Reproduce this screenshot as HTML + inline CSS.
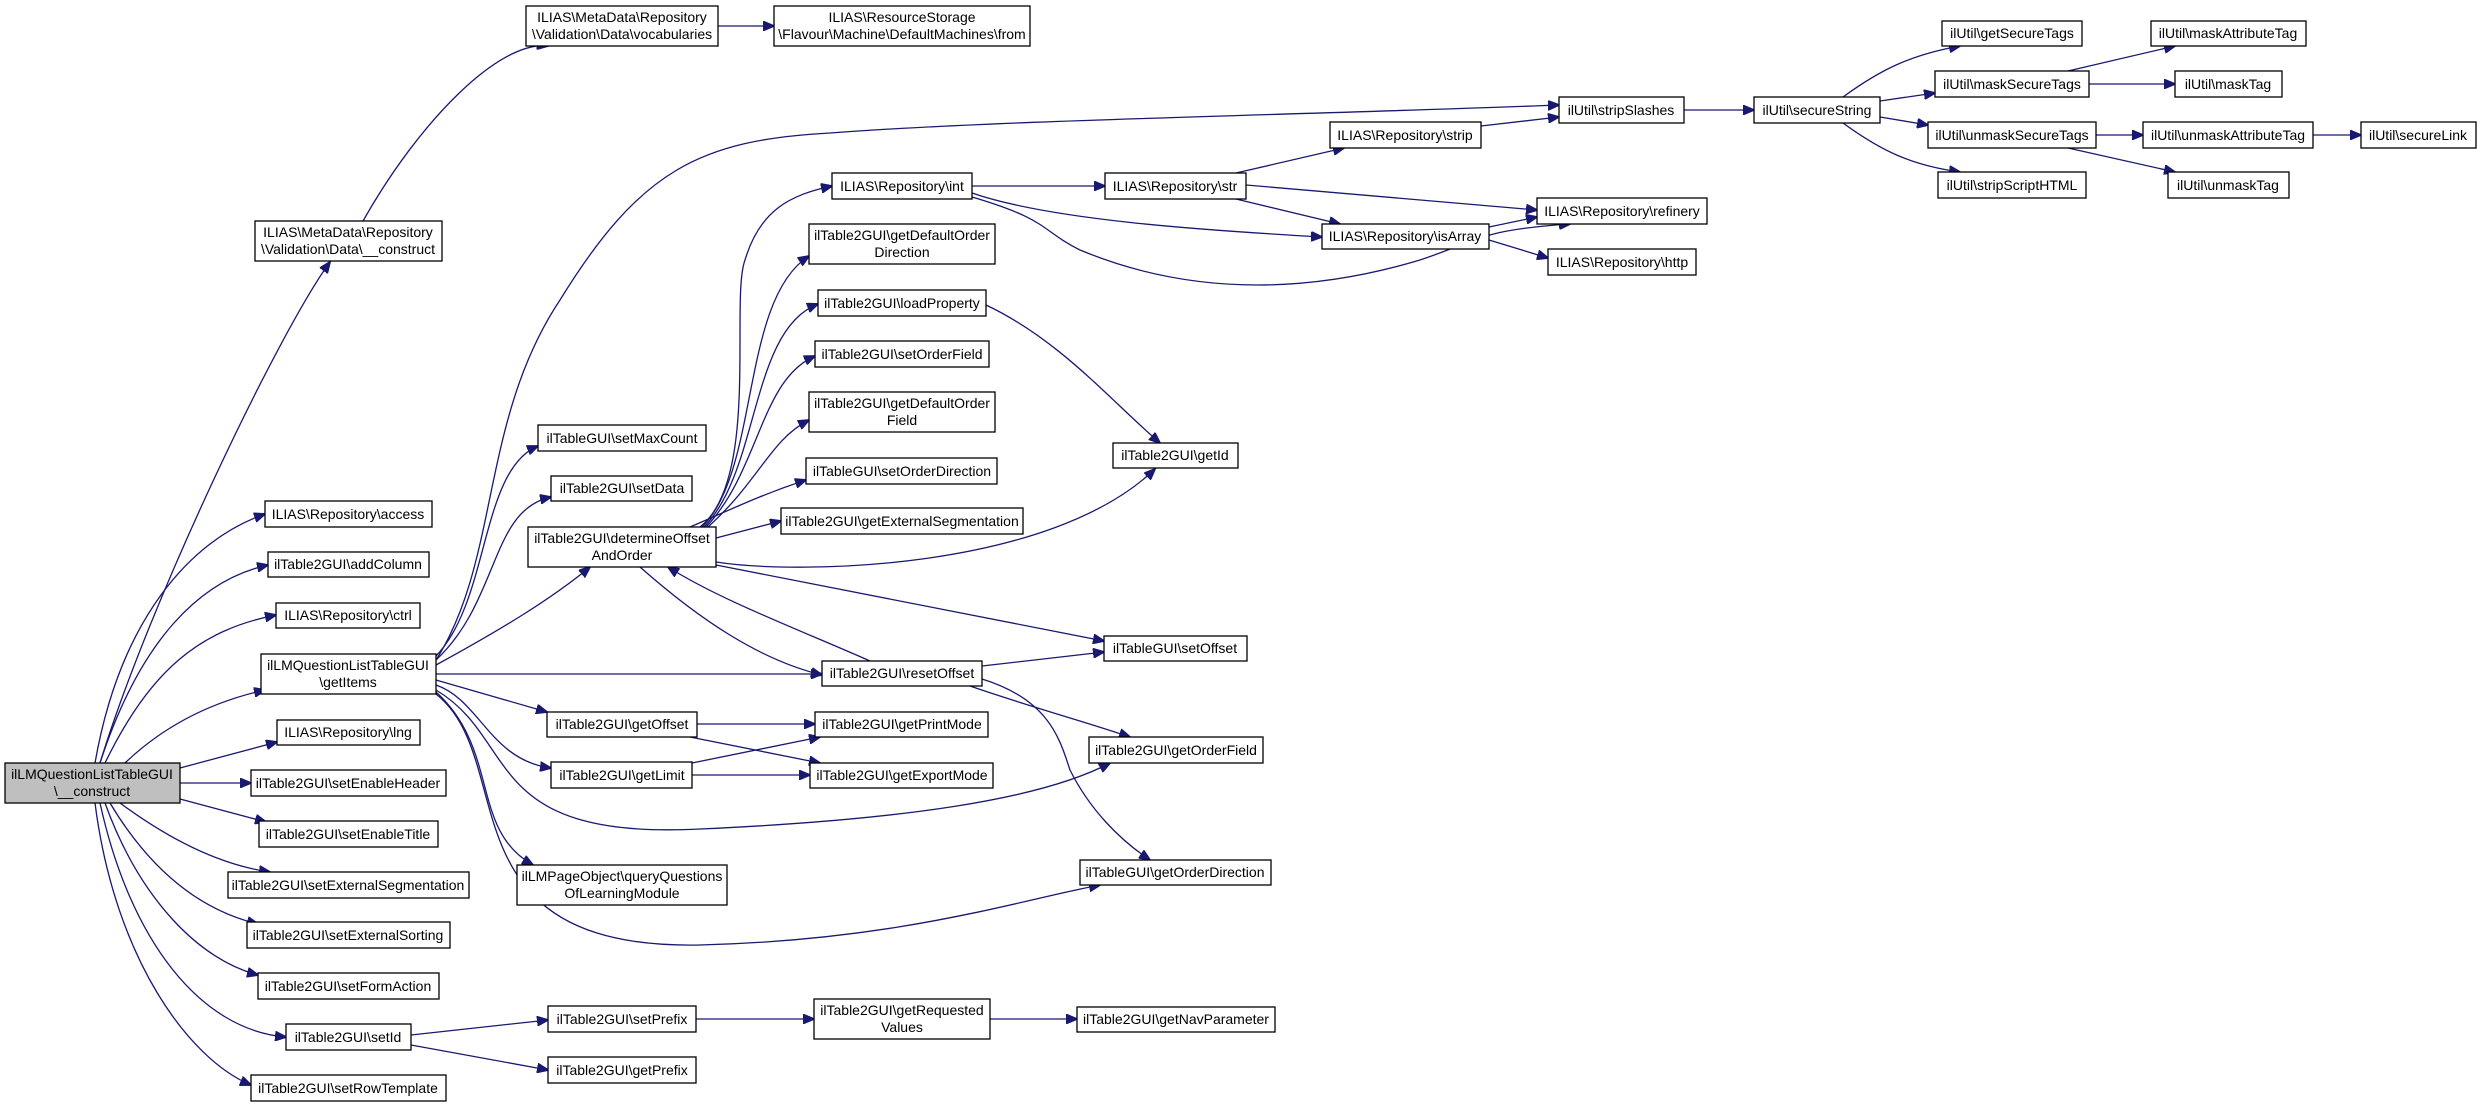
<!DOCTYPE html>
<html><head><meta charset="utf-8"><style>
html,body{margin:0;padding:0;background:#fff;}
svg{display:block;}
text{font-family:"Liberation Sans",sans-serif;font-size:14px;fill:#000;text-anchor:middle;}
rect{fill:#fff;stroke:#000;stroke-width:1.3;}
path{fill:none;stroke:#191970;stroke-width:1.3;}
</style></head><body>
<svg width="2481" height="1106" viewBox="0 0 2481 1106" xmlns="http://www.w3.org/2000/svg">
<defs><marker id="a" markerWidth="12" markerHeight="10" refX="11" refY="5" orient="auto" markerUnits="userSpaceOnUse"><path d="M0,0 L12,5 L0,10 Z" style="fill:#191970;stroke:#191970;stroke-width:1"/></marker></defs>
<g marker-end="url(#a)">
<!-- main -->
<path d="M100,763 C150,600 280,330 330,262"/>
<path d="M95,763 C120,620 190,540 265,514"/>
<path d="M100,763 C140,640 200,580 268,565"/>
<path d="M105,763 C150,670 200,630 276,615"/>
<path d="M125,763 C170,720 220,700 265,690"/>
<path d="M180,768 L277,742"/>
<path d="M180,783 L251,783"/>
<path d="M180,799 L266,822"/>
<path d="M120,803 C170,840 220,865 270,872"/>
<path d="M110,803 C150,870 200,910 258,924"/>
<path d="M105,803 C140,900 200,960 258,975"/>
<path d="M100,803 C130,940 200,1030 286,1037"/>
<path d="M95,803 C115,960 190,1060 251,1085"/>
<!-- metadata -->
<path d="M363,221 C420,120 500,40 548,46"/>
<path d="M718,26 L774,26"/>
<!-- getItems -->
<path d="M436,660 C500,560 480,420 560,300 C640,170 700,140 830,133 C1000,120 1300,115 1559,105"/>
<path d="M436,656 C490,600 480,470 538,446"/>
<path d="M436,660 C500,600 490,510 551,497"/>
<path d="M436,665 C500,630 550,600 590,567"/>
<path d="M436,674 L822,674"/>
<path d="M436,680 L547,712"/>
<path d="M436,685 C480,700 490,760 551,768"/>
<path d="M436,690 C520,740 480,840 700,829 C900,820 1040,800 1110,763"/>
<path d="M436,694 C520,760 440,950 700,945 C900,940 1020,900 1100,885"/>
<path d="M436,692 C500,750 470,830 533,865"/>
<!-- determineOffsetAndOrder -->
<path d="M700,527 C760,480 730,300 745,260 C760,210 790,195 832,186"/>
<path d="M702,527 C760,470 740,300 809,256"/>
<path d="M704,527 C760,470 750,330 818,304"/>
<path d="M706,527 C760,470 760,380 815,356"/>
<path d="M708,527 C760,480 770,440 809,420"/>
<path d="M690,527 C730,510 760,495 806,480"/>
<path d="M716,538 L781,521"/>
<path d="M716,562 C800,575 1050,570 1155,469"/>
<path d="M716,565 L1104,641"/>
<path d="M640,567 C700,620 760,660 822,675"/>
<path d="M870,661 C800,630 720,600 668,567"/>
<!-- int/str -->
<path d="M972,186 L1105,186"/>
<path d="M972,193 C1050,220 1200,230 1322,237"/>
<path d="M972,197 C1050,220 1040,230 1080,250 C1200,300 1320,290 1420,260 C1480,240 1480,230 1570,224"/>
<path d="M1236,173 L1344,148"/>
<path d="M1246,185 L1537,210"/>
<path d="M1236,199 L1340,224"/>
<path d="M1481,126 L1559,117"/>
<path d="M1489,227 L1537,217"/>
<path d="M1489,240 L1548,258"/>
<path d="M1684,110 L1754,110"/>
<!-- util -->
<path d="M1843,97 C1880,70 1910,55 1960,46"/>
<path d="M1880,101 L1935,93"/>
<path d="M1880,117 L1928,125"/>
<path d="M1843,123 C1880,150 1910,165 1960,172"/>
<path d="M2068,71 L2175,46"/>
<path d="M2089,84 L2175,84"/>
<path d="M2096,135 L2143,135"/>
<path d="M2068,148 L2175,172"/>
<path d="M2313,135 L2361,135"/>
<!-- others -->
<path d="M986,305 C1060,340 1110,400 1160,443"/>
<path d="M982,666 L1104,652"/>
<path d="M970,686 C1040,710 1080,720 1130,737"/>
<path d="M982,679 C1050,700 1060,740 1070,770 C1090,810 1120,840 1150,860"/>
<path d="M697,724 L815,724"/>
<path d="M690,737 L820,763"/>
<path d="M692,763 L820,737"/>
<path d="M692,775 L810,775"/>
<path d="M411,1035 L548,1020"/>
<path d="M411,1045 L548,1070"/>
<path d="M696,1019 L814,1019"/>
<path d="M990,1019 L1077,1019"/>
</g>
<!-- nodes -->
<rect x="5" y="763" width="175" height="40" style="fill:#bfbfbf"/><text x="92" y="779">ilLMQuestionListTableGUI</text><text x="92" y="796">\__construct</text>
<rect x="255" y="221" width="187" height="40"/><text x="348" y="237">ILIAS\MetaData\Repository</text><text x="348" y="254">\Validation\Data\__construct</text>
<rect x="526" y="6" width="192" height="40"/><text x="622" y="22">ILIAS\MetaData\Repository</text><text x="622" y="39">\Validation\Data\vocabularies</text>
<rect x="774" y="6" width="256" height="40"/><text x="902" y="22">ILIAS\ResourceStorage</text><text x="902" y="39">\Flavour\Machine\DefaultMachines\from</text>
<rect x="265" y="501" width="167" height="26"/><text x="348" y="519">ILIAS\Repository\access</text>
<rect x="268" y="552" width="161" height="25"/><text x="348" y="569">ilTable2GUI\addColumn</text>
<rect x="276" y="603" width="144" height="25"/><text x="348" y="620">ILIAS\Repository\ctrl</text>
<rect x="261" y="654" width="175" height="40"/><text x="348" y="670">ilLMQuestionListTableGUI</text><text x="348" y="687">\getItems</text>
<rect x="277" y="720" width="143" height="25"/><text x="348" y="737">ILIAS\Repository\lng</text>
<rect x="251" y="770" width="195" height="26"/><text x="348" y="788">ilTable2GUI\setEnableHeader</text>
<rect x="259" y="821" width="179" height="26"/><text x="348" y="839">ilTable2GUI\setEnableTitle</text>
<rect x="228" y="872" width="241" height="26"/><text x="348" y="890">ilTable2GUI\setExternalSegmentation</text>
<rect x="247" y="922" width="203" height="26"/><text x="348" y="940">ilTable2GUI\setExternalSorting</text>
<rect x="258" y="973" width="181" height="26"/><text x="348" y="991">ilTable2GUI\setFormAction</text>
<rect x="286" y="1024" width="125" height="26"/><text x="348" y="1042">ilTable2GUI\setId</text>
<rect x="251" y="1075" width="195" height="26"/><text x="348" y="1093">ilTable2GUI\setRowTemplate</text>
<rect x="538" y="425" width="168" height="26"/><text x="622" y="443">ilTableGUI\setMaxCount</text>
<rect x="551" y="476" width="141" height="25"/><text x="622" y="493">ilTable2GUI\setData</text>
<rect x="528" y="527" width="188" height="40"/><text x="622" y="543">ilTable2GUI\determineOffset</text><text x="622" y="560">AndOrder</text>
<rect x="547" y="712" width="150" height="25"/><text x="622" y="729">ilTable2GUI\getOffset</text>
<rect x="551" y="762" width="141" height="26"/><text x="622" y="780">ilTable2GUI\getLimit</text>
<rect x="517" y="865" width="210" height="40"/><text x="622" y="881">ilLMPageObject\queryQuestions</text><text x="622" y="898">OfLearningModule</text>
<rect x="548" y="1006" width="148" height="26"/><text x="622" y="1024">ilTable2GUI\setPrefix</text>
<rect x="548" y="1057" width="148" height="26"/><text x="622" y="1075">ilTable2GUI\getPrefix</text>
<rect x="832" y="173" width="140" height="26"/><text x="902" y="191">ILIAS\Repository\int</text>
<rect x="809" y="224" width="186" height="40"/><text x="902" y="240">ilTable2GUI\getDefaultOrder</text><text x="902" y="257">Direction</text>
<rect x="818" y="290" width="168" height="26"/><text x="902" y="308">ilTable2GUI\loadProperty</text>
<rect x="815" y="341" width="174" height="26"/><text x="902" y="359">ilTable2GUI\setOrderField</text>
<rect x="809" y="392" width="186" height="40"/><text x="902" y="408">ilTable2GUI\getDefaultOrder</text><text x="902" y="425">Field</text>
<rect x="806" y="458" width="191" height="26"/><text x="902" y="476">ilTableGUI\setOrderDirection</text>
<rect x="781" y="508" width="242" height="26"/><text x="902" y="526">ilTable2GUI\getExternalSegmentation</text>
<rect x="822" y="661" width="160" height="25"/><text x="902" y="678">ilTable2GUI\resetOffset</text>
<rect x="815" y="712" width="173" height="25"/><text x="902" y="729">ilTable2GUI\getPrintMode</text>
<rect x="810" y="763" width="183" height="25"/><text x="902" y="780">ilTable2GUI\getExportMode</text>
<rect x="814" y="999" width="176" height="40"/><text x="902" y="1015">ilTable2GUI\getRequested</text><text x="902" y="1032">Values</text>
<rect x="1105" y="173" width="141" height="26"/><text x="1175" y="191">ILIAS\Repository\str</text>
<rect x="1330" y="122" width="151" height="26"/><text x="1405" y="140">ILIAS\Repository\strip</text>
<rect x="1322" y="224" width="167" height="25"/><text x="1405" y="241">ILIAS\Repository\isArray</text>
<rect x="1113" y="443" width="125" height="25"/><text x="1175" y="460">ilTable2GUI\getId</text>
<rect x="1104" y="636" width="143" height="25"/><text x="1175" y="653">ilTableGUI\setOffset</text>
<rect x="1089" y="737" width="174" height="26"/><text x="1176" y="755">ilTable2GUI\getOrderField</text>
<rect x="1080" y="860" width="191" height="25"/><text x="1175" y="877">ilTableGUI\getOrderDirection</text>
<rect x="1077" y="1007" width="198" height="25"/><text x="1176" y="1024">ilTable2GUI\getNavParameter</text>
<rect x="1559" y="97" width="125" height="26"/><text x="1621" y="115">ilUtil\stripSlashes</text>
<rect x="1537" y="198" width="170" height="26"/><text x="1622" y="216">ILIAS\Repository\refinery</text>
<rect x="1548" y="249" width="148" height="26"/><text x="1622" y="267">ILIAS\Repository\http</text>
<rect x="1754" y="97" width="126" height="26"/><text x="1817" y="115">ilUtil\secureString</text>
<rect x="1942" y="21" width="140" height="25"/><text x="2012" y="38">ilUtil\getSecureTags</text>
<rect x="1935" y="71" width="154" height="26"/><text x="2012" y="89">ilUtil\maskSecureTags</text>
<rect x="1928" y="122" width="168" height="26"/><text x="2012" y="140">ilUtil\unmaskSecureTags</text>
<rect x="1938" y="172" width="148" height="26"/><text x="2012" y="190">ilUtil\stripScriptHTML</text>
<rect x="2151" y="21" width="155" height="25"/><text x="2228" y="38">ilUtil\maskAttributeTag</text>
<rect x="2175" y="71" width="107" height="26"/><text x="2228" y="89">ilUtil\maskTag</text>
<rect x="2143" y="122" width="170" height="26"/><text x="2228" y="140">ilUtil\unmaskAttributeTag</text>
<rect x="2168" y="172" width="121" height="26"/><text x="2228" y="190">ilUtil\unmaskTag</text>
<rect x="2361" y="122" width="115" height="26"/><text x="2418" y="140">ilUtil\secureLink</text>
</svg>
</body></html>
